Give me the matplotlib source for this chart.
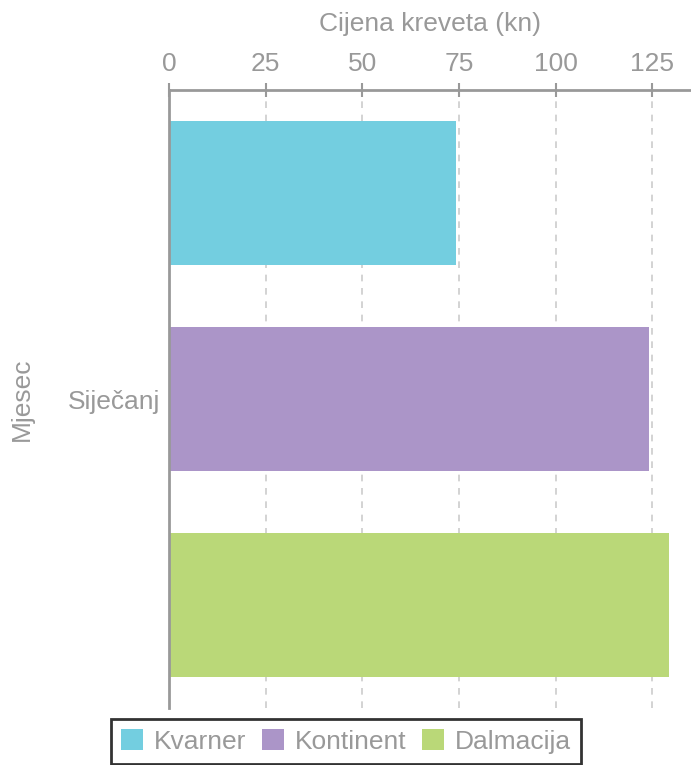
import matplotlib
matplotlib.use("Agg")
import matplotlib.pyplot as plt
from matplotlib.patches import Patch

plt.rcParams['font.family'] = ['Liberation Sans', 'DejaVu Sans']

category = "Siječanj"
series = ["Kvarner", "Kontinent", "Dalmacija"]
values = [74.3, 124.2, 129.4]
colors = ["#73CEE0", "#AB95C8", "#BAD878"]
xticks = [0, 25, 50, 75, 100, 125]

TXT = "#999999"

fig = plt.figure(figsize=(6.91, 7.65), dpi=100)
ax = fig.add_axes([169/691, 1-708/765, 1-169/691, (708-90)/765])

positions = [0, 1, 2]
for p, v, c in zip(positions, values, colors):
    ax.barh(p, v, height=0.7, color=c, zorder=2)

ax.set_xlim(0, 135)
ax.set_ylim(2.5, -0.5)
ax.xaxis.tick_top()
ax.xaxis.set_label_position('top')
ax.set_xticks(xticks)
ax.set_xticklabels([str(t) for t in xticks])
ax.set_yticks([1])
ax.set_yticklabels([category])
ax.tick_params(axis='x', colors=TXT, labelsize=19, direction='inout', length=10,
               width=1.5, pad=5, labelcolor=TXT)
ax.tick_params(axis='y', length=0, labelsize=19, labelcolor=TXT, pad=6)
ax.set_xlabel("Cijena kreveta (kn)", fontsize=19, color=TXT, labelpad=15)
ax.set_ylabel("Mjesec", fontsize=19, color=TXT, labelpad=25)

ax.grid(axis='x', color='#cccccc', linestyle=(0, (4, 4)), linewidth=1.2, zorder=1)
for s in ['right', 'bottom']:
    ax.spines[s].set_visible(False)
ax.spines['top'].set_color('#999999')
ax.spines['top'].set_linewidth(2)
ax.spines['left'].set_color('#999999')
ax.spines['left'].set_linewidth(2)
ax.spines['left'].set_zorder(3)

handles = [Patch(facecolor=c, label=s) for s, c in zip(series, colors)]
leg = fig.legend(handles=handles, loc='upper center', bbox_to_anchor=(346/691, 1-719/765),
                 ncol=3, frameon=True, fontsize=19, handlelength=0.83, handleheight=0.83,
                 handletextpad=0.42, columnspacing=0.6, borderpad=0.38, borderaxespad=0,
                 fancybox=False)
leg.get_frame().set_edgecolor('black')
leg.get_frame().set_linewidth(2)
for t in leg.get_texts():
    t.set_color(TXT)

fig.savefig("out.png", dpi=100)
